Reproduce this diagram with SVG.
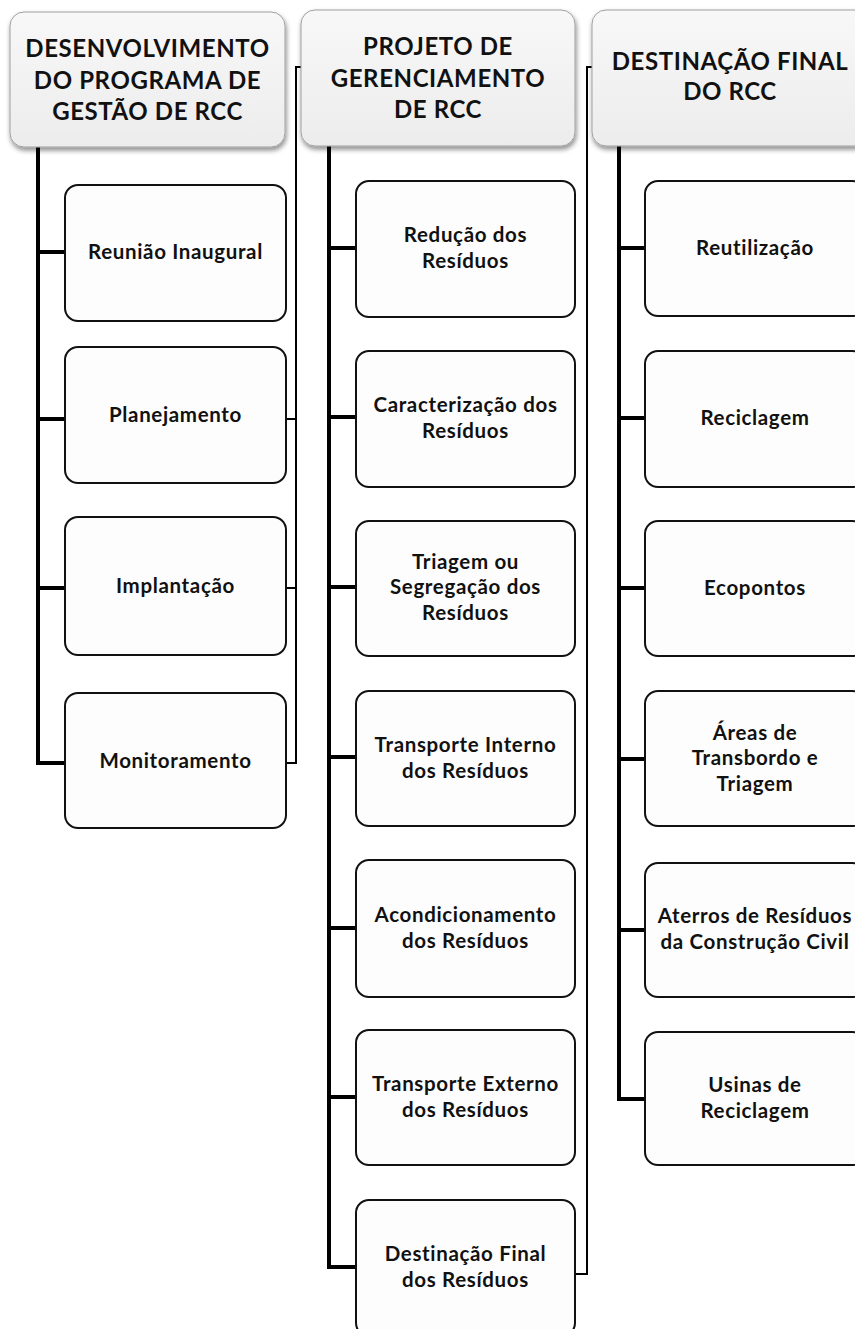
<svg xmlns="http://www.w3.org/2000/svg" width="855" height="1329" viewBox="0 0 855 1329">
<style>
.hdr{fill:url(#hg);stroke:#a0a0a0;stroke-width:1;filter:url(#sh)}
.box{fill:#fdfdfd;stroke:#111;stroke-width:2}
.ht{font-family:Lato,"Open Sans",sans-serif;font-weight:700;font-size:24px;letter-spacing:0.6px;fill:#111;text-anchor:middle}
.bt{font-family:Lato,"Open Sans",sans-serif;font-weight:700;font-size:20.5px;letter-spacing:0.65px;fill:#111;text-anchor:middle}
.thick{fill:none;stroke:#000;stroke-width:4;stroke-linejoin:miter}
.thin{fill:none;stroke:#000;stroke-width:2}
</style>
<defs>
<linearGradient id="hg" x1="0" y1="0" x2="0" y2="1">
<stop offset="0" stop-color="#f8f8f8"/>
<stop offset="1" stop-color="#ececec"/>
</linearGradient>
<filter id="sh" x="-10%" y="-10%" width="120%" height="130%">
<feDropShadow dx="1" dy="3" stdDeviation="2.5" flood-color="#000" flood-opacity="0.45"/>
</filter>
</defs>
<rect width="855" height="1329" fill="#fff"/>

<g id="connectors">
<path class="thick" d="M38,147 V763 H66 M38,252 H66 M38,419 H66 M38,588 H66"/>
<path class="thin" d="M301,67 H296 V763 H282 M282,419 H296 M282,588 H296"/>
<path class="thick" d="M329,146 V1267 H357 M329,248 H357 M329,417 H357 M329,587 H357 M329,757 H357 M329,928 H357 M329,1097 H357"/>
<path class="thin" d="M592,67 H587 V1274 H572"/>
<path class="thick" d="M619,146 V1099 H646 M619,248 H646 M619,418 H646 M619,588 H646 M619,759 H646 M619,930 H646"/>
</g>

<g id="h1">
<rect class="hdr" x="10" y="12" width="275" height="135" rx="14"/>
<text class="ht" x="147.5" y="57">DESENVOLVIMENTO</text>
<text class="ht" x="147.5" y="88.5">DO PROGRAMA DE</text>
<text class="ht" x="147.5" y="120">GESTÃO DE RCC</text>
</g>
<g id="h2">
<rect class="hdr" x="301" y="10" width="274" height="136" rx="14"/>
<text class="ht" x="438" y="55">PROJETO DE</text>
<text class="ht" x="438" y="86.5">GERENCIAMENTO</text>
<text class="ht" x="438" y="118">DE RCC</text>
</g>
<g id="h3">
<rect class="hdr" x="592" y="10" width="276" height="136" rx="14"/>
<text class="ht" x="730" y="70">DESTINAÇÃO FINAL</text>
<text class="ht" x="730" y="100">DO RCC</text>
</g>

<g id="c1n1"><rect class="box" x="65" y="185" width="221" height="136" rx="13"/><text class="bt" x="175.5" y="259">Reunião Inaugural</text></g>
<g id="c1n2"><rect class="box" x="65" y="347" width="221" height="136" rx="13"/><text class="bt" x="175.5" y="422">Planejamento</text></g>
<g id="c1n3"><rect class="box" x="65" y="517" width="221" height="138" rx="13"/><text class="bt" x="175.5" y="593">Implantação</text></g>
<g id="c1n4"><rect class="box" x="65" y="693" width="221" height="135" rx="13"/><text class="bt" x="175.5" y="768">Monitoramento</text></g>

<g id="c2n1"><rect class="box" x="356" y="181" width="219" height="136" rx="13"/><text class="bt" x="465.5" y="242">Redução dos</text><text class="bt" x="465.5" y="267.5">Resíduos</text></g>
<g id="c2n2"><rect class="box" x="356" y="351" width="219" height="136" rx="13"/><text class="bt" x="465.5" y="412">Caracterização dos</text><text class="bt" x="465.5" y="437.5">Resíduos</text></g>
<g id="c2n3"><rect class="box" x="356" y="521" width="219" height="135" rx="13"/><text class="bt" x="465.5" y="568.5">Triagem ou</text><text class="bt" x="465.5" y="594">Segregação dos</text><text class="bt" x="465.5" y="619.5">Resíduos</text></g>
<g id="c2n4"><rect class="box" x="356" y="691" width="219" height="135" rx="13"/><text class="bt" x="465.5" y="752">Transporte Interno</text><text class="bt" x="465.5" y="777.5">dos Resíduos</text></g>
<g id="c2n5"><rect class="box" x="356" y="860" width="219" height="137" rx="13"/><text class="bt" x="465.5" y="922">Acondicionamento</text><text class="bt" x="465.5" y="947.5">dos Resíduos</text></g>
<g id="c2n6"><rect class="box" x="356" y="1030" width="219" height="135" rx="13"/><text class="bt" x="465.5" y="1091">Transporte Externo</text><text class="bt" x="465.5" y="1116.5">dos Resíduos</text></g>
<g id="c2n7"><rect class="box" x="356" y="1200" width="219" height="136" rx="13"/><text class="bt" x="465.5" y="1261">Destinação Final</text><text class="bt" x="465.5" y="1286.5">dos Resíduos</text></g>

<g id="c3n1"><rect class="box" x="645" y="181" width="220" height="135" rx="13"/><text class="bt" x="755" y="255">Reutilização</text></g>
<g id="c3n2"><rect class="box" x="645" y="351" width="220" height="136" rx="13"/><text class="bt" x="755" y="425">Reciclagem</text></g>
<g id="c3n3"><rect class="box" x="645" y="521" width="220" height="135" rx="13"/><text class="bt" x="755" y="595">Ecopontos</text></g>
<g id="c3n4"><rect class="box" x="645" y="691" width="220" height="135" rx="13"/><text class="bt" x="755" y="739.5">Áreas de</text><text class="bt" x="755" y="765">Transbordo e</text><text class="bt" x="755" y="790.5">Triagem</text></g>
<g id="c3n5"><rect class="box" x="645" y="863" width="220" height="134" rx="13"/><text class="bt" x="755" y="923">Aterros de Resíduos</text><text class="bt" x="755" y="948.5">da Construção Civil</text></g>
<g id="c3n6"><rect class="box" x="645" y="1032" width="220" height="133" rx="13"/><text class="bt" x="755" y="1092">Usinas de</text><text class="bt" x="755" y="1117.5">Reciclagem</text></g>
</svg>
